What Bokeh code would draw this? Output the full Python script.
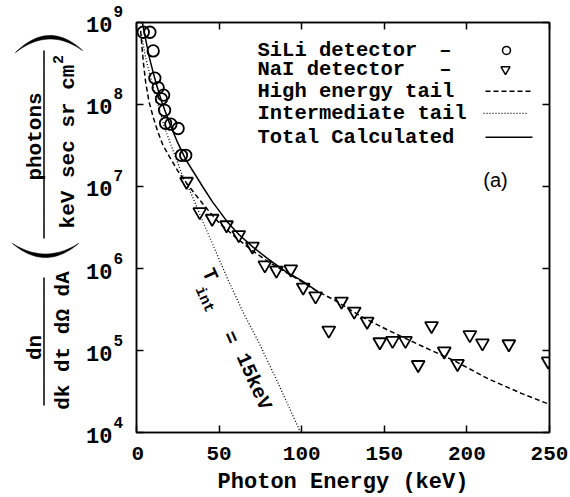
import math
from bokeh.plotting import figure
from bokeh.layouts import row
from bokeh.models import (Range1d, FixedTicker, LinearAxis, LogAxis, Label,
                          CustomJSTickFormatter)
from bokeh.core.properties import value
from bokeh.embed import file_html
from bokeh.resources import INLINE

# ---------------- data ----------------
sili_E = [4.1, 8.1, 10.1, 11.1, 13.1, 15.1, 16.4, 17.0, 17.6, 20.8, 25.2, 27.2, 29.8]
sili_val = [7.6e8, 7.6e8, 4.5e8, 2.1e8, 1.6e8, 1.17e8, 1.3e8, 8.5e7, 5.9e7, 5.75e7,
            5.1e7, 2.4e7, 2.4e7]

nai_E = [30.3, 38.3, 45.8, 54.5, 61.9, 70.2, 77.7, 84.7, 93.4, 100.9, 108.4, 116.4,
         124.1, 131.8, 139.6, 147.3, 155.0, 162.8, 170.5, 178.6, 186.3, 194.3, 201.8,
         209.4, 225.4, 249.2]
nai_val = [1.15e7, 4.9e6, 4.07e6, 3.39e6, 2.57e6, 1.86e6, 1.10e6, 9.5e5, 9.8e5, 5.9e5,
           4.6e5, 1.76e5, 3.98e5, 3.0e5, 2.26e5, 1.27e5, 1.32e5, 1.32e5, 6.7e4, 2.0e5,
           9.8e4, 6.9e4, 1.55e5, 1.23e5, 1.2e5, 7.4e4]

high_E = [2.5, 4, 5.5, 7.5, 10, 13, 16, 20, 25, 30, 35, 40, 45, 50, 60, 70, 80, 90,
          100, 110, 120, 136, 152, 172, 193, 213, 233, 250]
high_val = [7.9e8, 3.5e8, 1.9e8, 1.1e8, 7.1e7, 4.6e7, 3.2e7, 2.3e7, 1.55e7, 1.12e7,
            8.3e6, 6.2e6, 4.7e6, 3.6e6, 2.4e6, 1.66e6, 1.2e6, 9.1e5, 6.9e5, 5.2e5,
            4.1e5, 2.6e5, 1.78e5, 1.15e5, 7.4e4, 4.5e4, 3.0e4, 2.2e4]

int_E = [3, 5, 7, 10, 13, 17, 22, 27, 33, 40, 47, 55, 65, 74, 85, 99.3]
int_val = [7.1e8, 4.2e8, 2.8e8, 1.66e8, 1.0e8, 5.2e7, 2.8e7, 1.5e7, 8.3e6, 3.8e6,
           1.8e6, 7.6e5, 2.8e5, 1.26e5, 4.3e4, 1.0e4]

tot_E = [3.5, 5, 6, 8, 10, 12, 15, 20, 25, 30, 35, 40, 46, 55, 62, 70, 80, 90, 100, 110]
tot_val = [1.0e9, 7.1e8, 5.6e8, 3.6e8, 2.5e8, 1.78e8, 1.12e8, 5.9e7, 3.4e7, 2.1e7,
           1.45e7, 1.0e7, 6.5e6, 3.7e6, 2.6e6, 1.86e6, 1.29e6, 9.3e5, 7.1e5, 5.2e5]

x_ticks = [0, 50, 100, 150, 200, 250]
y_ticks = [1e4, 1e5, 1e6, 1e7, 1e8, 1e9]
y_tick_base = ["10"] * 6
y_tick_exp = ["4", "5", "6", "7", "8", "9"]

legend_texts = ["SiLi detector", "NaI detector", "High energy tail",
                "Intermediate tail", "Total Calculated"]

# ---------------- layout (page pixels) ----------------
FONT = "Liberation Mono"
W, H = 570, 497
X0, X1, Y0, Y1 = 136, 549, 22, 433      # plot frame edges
LW = 131                                 # width of the left (title) panel
XMIN, XMAX = 0, 250
LMIN, LMAX = 4, 9
PPD = (Y1 - Y0) / (LMAX - LMIN)          # pixels per decade


def dx(px):
    return XMIN + (px - X0) / (X1 - X0) * (XMAX - XMIN)


def dy(py):
    return 10 ** (LMAX - (py - Y0) / PPD)


# ---------------- main plot ----------------
p = figure(width=W - LW, height=H, y_axis_type="log",
           x_range=Range1d(XMIN, XMAX), y_range=Range1d(10 ** LMIN, 10 ** LMAX),
           output_backend="svg", toolbar_location=None,
           min_border_left=X0 - LW, min_border_right=W - X1,
           min_border_top=Y0, min_border_bottom=H - Y1)
p.frame_align = False
p.grid.visible = False
p.outline_line_color = "black"
p.outline_line_width = 1.5
p.background_fill_color = "white"
p.border_fill_color = "white"

blank = "return ''"
for ax in p.xaxis:
    ax.ticker = FixedTicker(ticks=x_ticks)
    ax.major_tick_in = 7
    ax.major_tick_out = 0
    ax.minor_tick_line_color = None
    ax.axis_line_width = 1.5
    ax.major_tick_line_width = 1.5
    ax.major_label_text_font = FONT
    ax.major_label_text_font_style = "bold"
    ax.major_label_text_font_size = "21px"
    ax.major_label_text_color = "black"
    ax.major_label_standoff = 14
    ax.axis_label = "Photon Energy (keV)"
    ax.axis_label_text_font = FONT
    ax.axis_label_text_font_style = "bold"
    ax.axis_label_text_font_size = "22px"
    ax.axis_label_text_color = "black"
    ax.axis_label_standoff = 7
for ax in p.yaxis:
    ax.ticker = FixedTicker(ticks=y_ticks)
    ax.formatter = CustomJSTickFormatter(code=blank)
    ax.major_tick_in = 7
    ax.major_tick_out = 0
    ax.minor_tick_line_color = None
    ax.axis_line_width = 1.5
    ax.major_tick_line_width = 1.5
    ax.major_label_text_font_size = "0px"
    ax.major_label_standoff = 0

top = LinearAxis(ticker=FixedTicker(ticks=x_ticks), formatter=CustomJSTickFormatter(code=blank),
                 major_tick_in=7, major_tick_out=0, minor_tick_line_color=None,
                 axis_line_width=1.5, major_tick_line_width=1.5,
                 major_label_text_font_size="0px", major_label_standoff=0)
p.add_layout(top, "above")
right = LogAxis(ticker=FixedTicker(ticks=y_ticks), formatter=CustomJSTickFormatter(code=blank),
                major_tick_in=7, major_tick_out=0, minor_tick_line_color=None,
                axis_line_width=1.5, major_tick_line_width=1.5,
                major_label_text_font_size="0px", major_label_standoff=0)
p.add_layout(right, "right")

# data marks
p.line(high_E, high_val, line_color="black", line_width=1.5, line_dash="5 3")
p.line(int_E, int_val, line_color="black", line_width=1.3, line_dash="1 2")
p.line(tot_E, tot_val, line_color="black", line_width=1.5)
p.scatter(sili_E, sili_val, marker="circle", size=11.5, fill_color=None,
          line_color="black", line_width=1.8)
p.scatter(nai_E, nai_val, marker="inverted_triangle", size=13, fill_color=None,
          line_color="black", line_width=1.8)


def lab(text, px, py, size, angle=0.0, align="center", baseline="middle",
        font=FONT, style="bold"):
    p.add_layout(Label(x=dx(px), y=dy(py), text=text, angle=angle,
                       text_align=align, text_baseline=baseline,
                       text_font=font, text_font_style=style,
                       text_font_size=f"{size}px", text_color="black"))


# legend
leg_y = [50, 69, 91, 113, 137]
for t, yy in zip(legend_texts, leg_y):
    lab(t, 257, yy, 20.5, align="left")
lab("\u2013", 445, leg_y[0], 20.5)
lab("\u2013", 445, leg_y[1], 20.5)
p.scatter([dx(506)], [dy(leg_y[0])], marker="circle", size=8, fill_color=None,
          line_color="black", line_width=1.5)
p.scatter([dx(505)], [dy(leg_y[1])], marker="inverted_triangle", size=9, fill_color=None,
          line_color="black", line_width=1.5)
p.line([dx(485), dx(530)], [dy(leg_y[2])] * 2, line_color="black",
       line_width=1.5, line_dash="5 3")
p.line([dx(483), dx(528)], [dy(leg_y[3])] * 2, line_color="black",
       line_width=1.3, line_dash="1 2")
p.line([dx(485), dx(532)], [dy(leg_y[4])] * 2, line_color="black", line_width=1.5)

# panel tag
lab("(a)", 495, 180, 20, font="Liberation Sans", style="normal")

# T_int annotation along the dotted curve
ang = -math.radians(66)
lab("T", 209, 275, 20, angle=ang)
lab("int", 203.5, 300, 15, angle=ang)
lab("=", 230, 338, 20, angle=ang)
lab("15keV", 253, 382, 20, angle=ang)

# ---------------- left panel: y tick labels and y title ----------------
q = figure(width=LW, height=H, y_axis_type="log",
           x_range=Range1d(0, LW), y_range=Range1d(dy(H), dy(0)),
           output_backend="svg", toolbar_location=None,
           x_axis_location=None, y_axis_location=None,
           min_border=0, min_border_left=0, min_border_right=0,
           min_border_top=0, min_border_bottom=0)
q.frame_align = False
q.grid.visible = False
q.outline_line_color = None
q.background_fill_color = "white"
q.border_fill_color = "white"

exp_shift = 10 ** (11 / PPD)   # raise exponents by 11 px
q.text(x=[112] * len(y_ticks), y=[t * 10 ** (-2 / PPD) for t in y_ticks], text=y_tick_base,
       text_align="right", text_baseline="middle", text_font=value(FONT),
       text_font_style="bold", text_font_size="22px", text_color="black")
q.text(x=[113] * len(y_ticks), y=[t * exp_shift for t in y_ticks], text=y_tick_exp,
       text_align="left", text_baseline="middle", text_font=value(FONT),
       text_font_style="bold", text_font_size="16px", text_color="black")


def qlab(text, px, py, size, angle=math.pi / 2):
    q.text(x=[px], y=[dy(py)], text=[text], angle=angle, text_align="center",
           text_baseline="middle", text_font=value(FONT), text_font_style="bold",
           text_font_size=f"{size}px", text_color="black")


qlab("photons", 35, 136, 21)
qlab("keV sec sr cm", 68, 146, 21)
qlab("2", 57, 59, 15)
qlab("dn", 35, 347, 21)
qlab("dk dt d\u03a9 dA", 63, 340, 21)

q.line([43.5, 43.5], [dy(50), dy(238)], line_color="black", line_width=1.5)
q.line([43.5, 43.5], [dy(277), dy(405)], line_color="black", line_width=1.5)


def crescent(xa, ya, xb, yb, c_out, c_in, n=24):
    xs, ys = [], []
    for i in range(n + 1):
        t = i / n
        xs.append(xa + (xb - xa) * t)
        ys.append(dy((1 - t) ** 2 * ya + 2 * t * (1 - t) * c_out + t ** 2 * yb))
    for i in range(n, -1, -1):
        t = i / n
        xs.append(xa + (xb - xa) * t)
        ys.append(dy((1 - t) ** 2 * ya + 2 * t * (1 - t) * c_in + t ** 2 * yb))
    q.patch(xs, ys, fill_color="black", line_color="black", line_width=0.6)


crescent(15, 52, 82, 50, 19, 26)
crescent(12, 243, 78, 243, 271, 264)

layout = row(q, p, spacing=0)
open("out.html", "w").write(file_html(layout, INLINE))
